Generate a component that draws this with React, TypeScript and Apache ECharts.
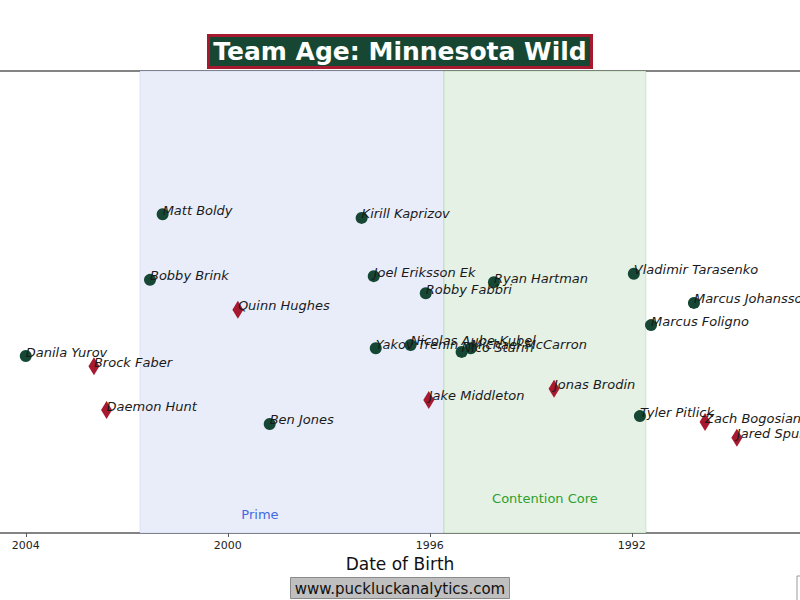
import React, { useEffect, useRef } from "react";
import * as echarts from "echarts";

// Forwards (circles)
const forwardNames = [
  "Danila Yurov", "Matt Boldy", "Bobby Brink", "Ben Jones", "Kirill Kaprizov",
  "Joel Eriksson Ek", "Yakov Trenin", "Nicolas Aube-Kubel", "Robby Fabbri",
  "Nico Sturm", "Michael McCarron", "Ryan Hartman", "Vladimir Tarasenko",
  "Marcus Foligno", "Tyler Pitlick", "Marcus Johansson",
];
const forwardBirth = [
  2004.0, 2001.29, 2001.54, 1999.17, 1997.35,
  1997.11, 1997.07, 1996.38, 1996.08,
  1995.37, 1995.19, 1994.73, 1991.96,
  1991.62, 1991.84, 1990.77,
];
const forwardValue = [
  38.3, 69.0, 54.8, 23.6, 68.2,
  55.6, 40.0, 40.7, 51.9,
  39.2, 40.0, 54.3, 56.1,
  45.0, 25.3, 49.8,
];

// Defensemen (diamonds)
const defenseNames = [
  "Brock Faber", "Daemon Hunt", "Quinn Hughes", "Jake Middleton",
  "Jonas Brodin", "Zach Bogosian", "Jared Spurgeon",
];
const defenseBirth = [2002.65, 2002.4, 1999.8, 1996.02, 1993.54, 1990.55, 1989.92];
const defenseValue = [36.1, 26.6, 48.3, 28.8, 31.2, 24.0, 20.6];

// Zones (birth-year bounds)
const primeRange = [2001.74, 1995.72];
const contentionRange = [1995.72, 1991.72];
const tickYears = [2004, 2000, 1996, 1992];

const FONT = "DejaVu Sans";

export default function App() {
  const ref = useRef<HTMLDivElement>(null);
  useEffect(() => {
    if (!ref.current) return;
    const chart = echarts.init(ref.current, undefined, { renderer: "svg" });
    const labelStyle = {
      show: true,
      formatter: "{b}",
      fontFamily: FONT,
      fontStyle: "italic" as const,
      fontSize: 13,
      color: "#1a1a1a",
      align: "left" as const,
      verticalAlign: "middle" as const,
    };
    chart.setOption({
      animation: false,
      backgroundColor: "#ffffff",
      title: [
        {
          text: "Team Age: Minnesota Wild",
          left: "center",
          top: 35,
          backgroundColor: "#174733",
          borderColor: "#a6192e",
          borderWidth: 3,
          padding: [4, 5, 4, 5],
          textStyle: { fontFamily: FONT, fontWeight: "bold", fontSize: 25, color: "#ffffff" },
        },
        {
          text: "www.puckluckanalytics.com",
          left: "center",
          top: 577,
          backgroundColor: "#bfbfbf",
          borderColor: "#8a8a8a",
          borderWidth: 1,
          padding: [4, 5, 3, 5],
          textStyle: { fontFamily: FONT, fontWeight: "normal", fontSize: 15, color: "#111111" },
        },
      ],
      grid: { left: 0, right: 0, top: 71, bottom: 67, containLabel: false },
      xAxis: [
        {
          type: "value",
          inverse: true,
          min: 1988.67,
          max: 2004.51,
          name: "Date of Birth",
          nameLocation: "middle",
          nameGap: 21,
          nameTextStyle: { fontFamily: FONT, fontSize: 17, color: "#111" },
          axisLine: { show: true, lineStyle: { color: "#5a5a5a", width: 1.5 } },
          axisTick: { show: true, length: 4, customValues: tickYears, lineStyle: { color: "#5a5a5a" } },
          axisLabel: {
            customValues: tickYears,
            formatter: (v: number) => String(Math.round(v)),
            fontFamily: FONT,
            fontSize: 11,
            color: "#222",
            margin: 7,
          },
          splitLine: { show: false },
        },
        {
          type: "value",
          position: "top",
          inverse: true,
          min: 1988.67,
          max: 2004.51,
          axisLine: { show: true, onZero: false, lineStyle: { color: "#5a5a5a", width: 1.5 } },
          axisTick: { show: false },
          axisLabel: { show: false },
          splitLine: { show: false },
        },
      ],
      yAxis: { type: "value", min: 0, max: 100, show: false },
      graphic: [
        {
          type: "rect",
          shape: { x: 797, y: 576, width: 30, height: 40 },
          style: { fill: "#ffffff", stroke: "#9a9a9a", lineWidth: 1 },
        },
      ],
      series: [
        {
          type: "scatter",
          name: "Forwards",
          xAxisIndex: 0,
          symbol: "circle",
          symbolSize: 12,
          itemStyle: { color: "#154734", opacity: 1 },
          label: { ...labelStyle, position: [6, 2] },
          data: forwardNames.map((n, i) => ({ name: n, value: [forwardBirth[i], forwardValue[i]] })),
          z: 3,
          markArea: {
            silent: true,
            data: [
              [
                {
                  xAxis: primeRange[0],
                  name: "Prime",
                  itemStyle: { color: "rgb(233,237,250)", borderColor: "rgba(65,105,225,0.12)", borderWidth: 1 },
                  label: {
                    show: true,
                    position: "insideBottom",
                    offset: [-32, -8],
                    fontFamily: FONT,
                    fontSize: 13,
                    color: "#4169e1",
                  },
                },
                { xAxis: primeRange[1] },
              ],
              [
                {
                  xAxis: contentionRange[0],
                  name: "Contention Core",
                  itemStyle: { color: "rgb(229,241,229)", borderColor: "rgba(0,128,0,0.15)", borderWidth: 1 },
                  label: {
                    show: true,
                    position: "insideBottom",
                    offset: [0, -24],
                    fontFamily: FONT,
                    fontSize: 13,
                    color: "#2ca02c",
                  },
                },
                { xAxis: contentionRange[1] },
              ],
            ],
          },
        },
        {
          type: "scatter",
          name: "Defense",
          xAxisIndex: 0,
          symbol: "diamond",
          symbolSize: [11, 18],
          itemStyle: { color: "#a6192e", opacity: 1 },
          label: { ...labelStyle, position: [5.5, 5] },
          data: defenseNames.map((n, i) => ({ name: n, value: [defenseBirth[i], defenseValue[i]] })),
          z: 3,
        },
      ],
    });
    return () => chart.dispose();
  }, []);
  return <div ref={ref} style={{ width: 800, height: 600, position: "absolute", left: 0, top: 0 }} />;
}
